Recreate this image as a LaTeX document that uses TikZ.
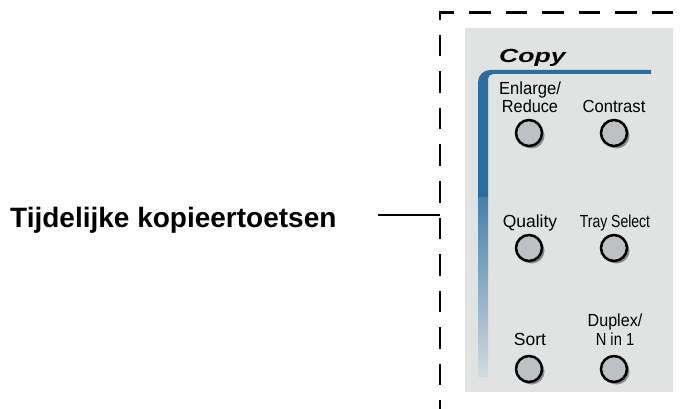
\documentclass[tikz,border=0pt]{standalone}
\usepackage{fontspec}
\setmainfont{Liberation Sans}
\usetikzlibrary{shadows}
\definecolor{panelgray}{RGB}{225,227,227}
\definecolor{copyblue}{RGB}{41,110,160}
\definecolor{btnfill}{RGB}{190,192,195}
\definecolor{btnshadow}{RGB}{135,137,140}

\begin{document}
\begin{tikzpicture}[x=1pt, y=-1pt,
    frame/.style={line width=2.8pt, dash pattern=on 21.5pt off 15pt, dash phase=12.5pt},
    leader/.style={line width=2pt},
    btn/.style={circle, draw=black, line width=2.5pt, fill=btnfill, minimum size=26pt, inner sep=0pt,
        general shadow={fill=btnshadow, shadow xshift=2.5pt, shadow yshift=-2.5pt}},
    btnlabel/.style={font=\fontsize{17.5}{18.5}\selectfont, align=center, anchor=base, inner sep=0pt},
    callout/.style={font=\fontsize{28}{30}\selectfont\bfseries, anchor=base west, inner sep=0pt}
]
\useasboundingbox (0,0) rectangle (688,409);

% Panel
\fill[panelgray] (465,28) rectangle (672.5,392);
\node[font=\fontsize{19}{20}\selectfont\bfseries\itshape, anchor=base west, inner sep=0pt] (copy) at (499,62.5) {\scalebox{1.4}[1]{Copy}};

% Blue bar
\fill[copyblue] (478,197) [rounded corners=12pt] -- (478,70) [sharp corners] -- (651,70) -- (651,74) [rounded corners=5pt] -- (488,74) [sharp corners] -- (488,197) -- cycle;
\shade[top color=copyblue!85!panelgray, bottom color=copyblue!8!panelgray] (478,197) rectangle (488,376);

% Keys
\node[btn] (enlarge) at (529,133) {};
\node[btn] (contrast) at (614,133) {};
\node[btn] (quality) at (529,248) {};
\node[btn] (tray) at (614,248) {};
\node[btn] (sort) at (529,369) {};
\node[btn] (duplex) at (614,369) {};

% Key labels
\node[btnlabel] (enlargetxt) at (530,113) {\scalebox{0.95}[1]{Enlarge/}\\\scalebox{0.93}[1]{Reduce}};
\node[btnlabel] (contrasttxt) at (614,113) {\scalebox{0.95}[1]{Contrast}};
\node[btnlabel] (qualitytxt) at (530,227) {Quality};
\node[btnlabel] (traytxt) at (615,227) {\scalebox{0.8}[1]{Tray Select}};
\node[btnlabel] (sorttxt) at (530,345) {Sort};
\node[btnlabel] (duplextxt) at (615,345) {\scalebox{0.92}[1]{Duplex/}\\\scalebox{0.84}[1]{N in 1}};

% Dashed frame
\draw[frame] (440,409) -- (440,12.5) -- (688,12.5);

% Callout
\node[callout] (label) at (10,227) {Tijdelijke kopieertoetsen};
\coordinate (lead) at (378,215);
\coordinate (tip) at (440,215);
\draw[leader] (lead) -- (tip);

\end{tikzpicture}
\end{document}
